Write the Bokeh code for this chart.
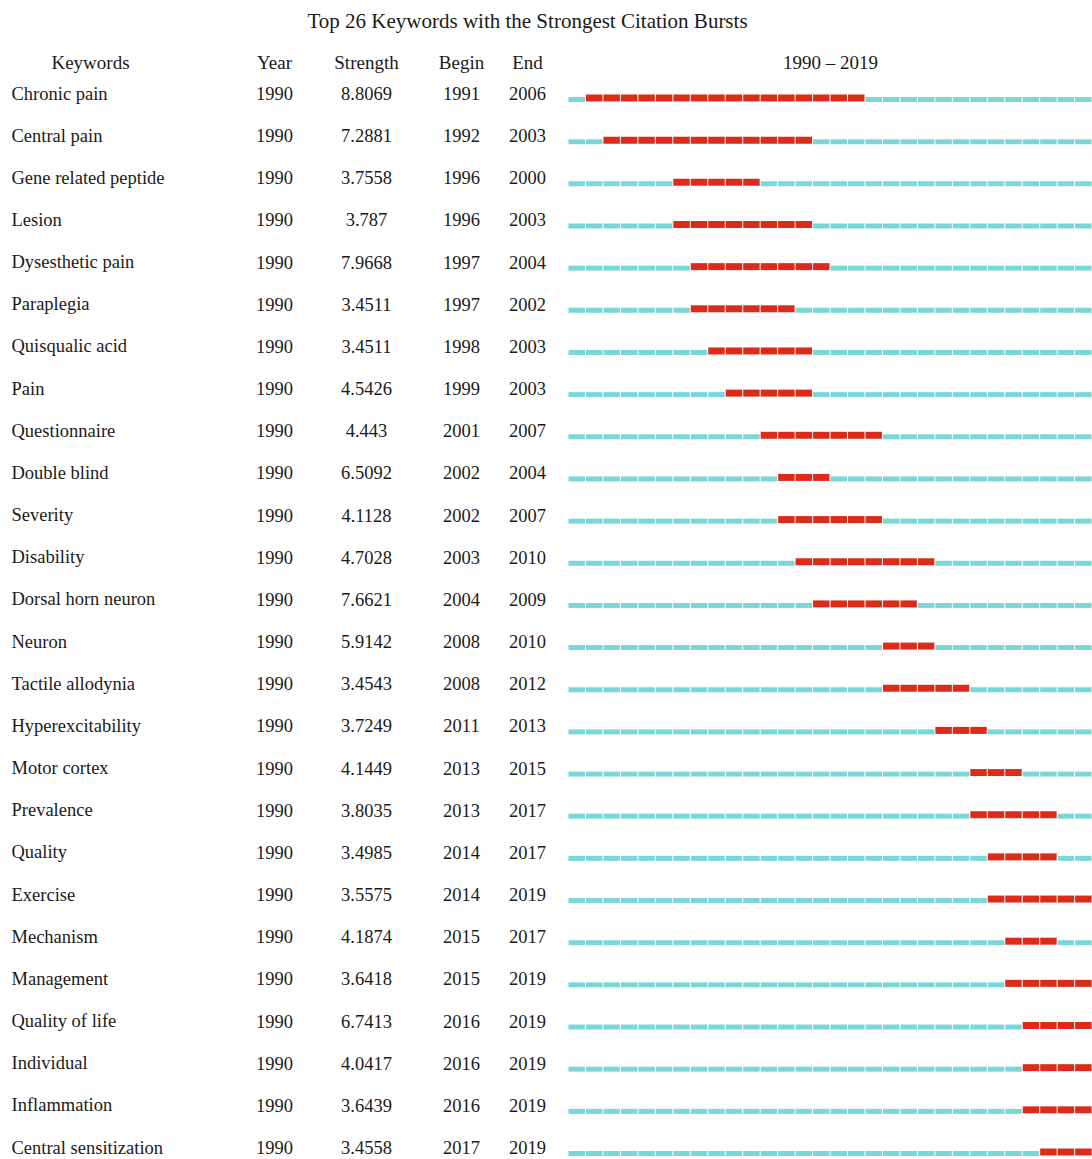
from bokeh.plotting import figure
from bokeh.models import Range1d, ColumnDataSource
from bokeh.core.properties import value
from bokeh.embed import file_html
from bokeh.resources import INLINE

# ---- data -------------------------------------------------------------
keywords = [
    "Chronic pain", "Central pain", "Gene related peptide", "Lesion",
    "Dysesthetic pain", "Paraplegia", "Quisqualic acid", "Pain",
    "Questionnaire", "Double blind", "Severity", "Disability",
    "Dorsal horn neuron", "Neuron", "Tactile allodynia", "Hyperexcitability",
    "Motor cortex", "Prevalence", "Quality", "Exercise", "Mechanism",
    "Management", "Quality of life", "Individual", "Inflammation",
    "Central sensitization",
]
first_year = [1990] * 26
strength = [
    "8.8069", "7.2881", "3.7558", "3.787", "7.9668", "3.4511", "3.4511",
    "4.5426", "4.443", "6.5092", "4.1128", "4.7028", "7.6621", "5.9142",
    "3.4543", "3.7249", "4.1449", "3.8035", "3.4985", "3.5575", "4.1874",
    "3.6418", "6.7413", "4.0417", "3.6439", "3.4558",
]
begin = [1991, 1992, 1996, 1996, 1997, 1997, 1998, 1999, 2001, 2002, 2002,
         2003, 2004, 2008, 2008, 2011, 2013, 2013, 2014, 2014, 2015, 2015,
         2016, 2016, 2016, 2017]
end = [2006, 2003, 2000, 2003, 2004, 2002, 2003, 2003, 2007, 2004, 2007,
       2010, 2009, 2010, 2012, 2013, 2015, 2017, 2017, 2019, 2017, 2019,
       2019, 2019, 2019, 2019]
span_start, span_end = 1990, 2019
headers = ["Keywords", "Year", "Strength", "Begin", "End"]
title = "Top 26 Keywords with the Strongest Citation Bursts"

# ---- geometry ---------------------------------------------------------
W, H = 1092, 1159
BAR_LEFT_PX = 568.0            # where the timeline starts
YEAR_PX = 17.47                # pixels per year on the timeline
ROW0_PX, ROW_PX = 93.0, 42.16  # first row centre and row pitch

x_start = span_start - BAR_LEFT_PX / YEAR_PX
x_end = x_start + W / YEAR_PX
y_top = -ROW0_PX / ROW_PX
y_bottom = y_top + H / ROW_PX


def px_x(px):
    return x_start + px / YEAR_PX


def px_y(px):
    return px / ROW_PX


FONT = value("Liberation Serif")
INK = "#1a1a1a"
CYAN = "#79d7d8"
RED = "#dd2b1a"
GAP = 1.0 / YEAR_PX

p = figure(width=W, height=H, output_backend="svg", toolbar_location=None,
           x_range=Range1d(x_start, x_end),
           y_range=Range1d(y_bottom, y_top),
           min_border=0, outline_line_color=None,
           background_fill_color="white", border_fill_color="white")
p.axis.visible = False
p.grid.visible = False

# ---- timeline segments ------------------------------------------------
base = dict(left=[], right=[], top=[], bottom=[])
burst = dict(left=[], right=[], top=[], bottom=[])
for i in range(len(keywords)):
    for yr in range(span_start, span_end + 1):
        hot = begin[i] <= yr <= end[i]
        d = burst if hot else base
        c = i + (px_y(4.5) if hot else px_y(6.0))
        h = px_y(7.0) if hot else px_y(5.0)
        d["left"].append(yr)
        d["right"].append(yr + 1 - GAP)
        d["top"].append(c - h / 2)
        d["bottom"].append(c + h / 2)

p.quad(source=ColumnDataSource(base), left="left", right="right", top="top",
       bottom="bottom", fill_color=CYAN, line_color=None)
p.quad(source=ColumnDataSource(burst), left="left", right="right", top="top",
       bottom="bottom", fill_color=RED, line_color=None)

# ---- table text -------------------------------------------------------
rows = list(range(len(keywords)))
ROW_FS = "18.5px"

p.text(x=[px_x(11)] * len(rows), y=rows, text=keywords, text_font=FONT,
       text_font_size=ROW_FS, text_color=INK, text_align="left",
       text_baseline="middle")
columns = [
    ([str(v) for v in first_year], 274),
    (strength, 366),
    ([str(v) for v in begin], 461),
    ([str(v) for v in end], 527),
]
for labels, cx in columns:
    p.text(x=[px_x(cx)] * len(rows), y=rows, text=labels, text_font=FONT,
           text_font_size=ROW_FS, text_color=INK, text_align="center",
           text_baseline="middle")

# header row
head_y = px_y(62 - ROW0_PX)
head_x = [90, 274, 366, 461, 527]
p.text(x=[px_x(v) for v in head_x], y=[head_y] * len(headers), text=headers,
       text_font=FONT, text_font_size="19px", text_color=INK,
       text_align="center", text_baseline="middle")
p.text(x=[(span_start + span_end + 1) / 2], y=[head_y],
       text=[f"{span_start} \u2013 {span_end}"], text_font=FONT,
       text_font_size="19px", text_color=INK, text_align="center",
       text_baseline="middle")

# title
p.text(x=[px_x(527)], y=[px_y(20 - ROW0_PX)], text=[title], text_font=FONT,
       text_font_size="21px", text_color=INK, text_align="center",
       text_baseline="middle")

open("out.html", "w").write(file_html(p, INLINE))
